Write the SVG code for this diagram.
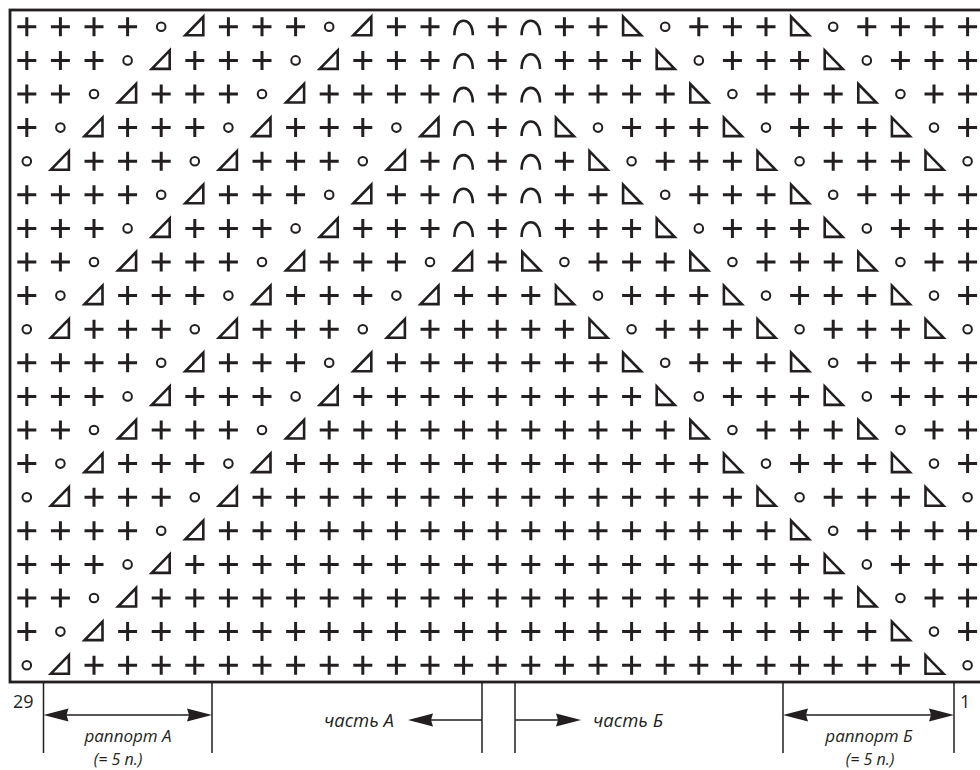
<svg xmlns="http://www.w3.org/2000/svg" width="980" height="770" viewBox="0 0 980 770">
<style>
.k{fill:none;stroke:#231f20}
.t{font-family:"Open Sans","DejaVu Sans",sans-serif;font-style:italic;font-size:18.5px;fill:#231f20}
.s{font-size:17px}
.q{font-size:16px}
.n{font-family:"Open Sans","DejaVu Sans",sans-serif;font-size:18px;fill:#231f20}
.ln{stroke:#231f20;stroke-width:1.5;fill:none}
</style>
<defs>
<path id="p" class="k" stroke-width="3" d="M-9.5,0H9.5M0,-9.5V9.5"/>
<circle id="o" class="k" stroke-width="2" r="4.3"/>
<path id="l" class="k" stroke-width="2.6" d="M-9.5,8.5H8.5V-10Z"/>
<path id="r" class="k" stroke-width="2.6" d="M-8.5,-10V8.5H9.5Z"/>
<path id="a" class="k" stroke-width="2.6" d="M-9.2,8.5C-9.2,-11 9.2,-11 9.2,8.5"/>
<path id="ah" fill="#231f20" d="M0,0L25,-6.5L23,0L25,6.5Z"/>
</defs>
<rect x="10" y="10" width="974" height="672" fill="#fff" stroke="#231f20" stroke-width="2.8"/>
<g id="chart">
<g transform="translate(0,26.8)"><use href="#p" x="26.8"/><use href="#p" x="60.4"/><use href="#p" x="94"/><use href="#p" x="127.6"/><use href="#o" x="161.2"/><use href="#l" x="194.8"/><use href="#p" x="228.4"/><use href="#p" x="262"/><use href="#p" x="295.6"/><use href="#o" x="329.2"/><use href="#l" x="362.8"/><use href="#p" x="396.4"/><use href="#p" x="430"/><use href="#a" x="463.6"/><use href="#p" x="497.2"/><use href="#a" x="530.8"/><use href="#p" x="564.4"/><use href="#p" x="598"/><use href="#r" x="631.6"/><use href="#o" x="665.2"/><use href="#p" x="698.8"/><use href="#p" x="732.4"/><use href="#p" x="766"/><use href="#r" x="799.6"/><use href="#o" x="833.2"/><use href="#p" x="866.8"/><use href="#p" x="900.4"/><use href="#p" x="934"/><use href="#p" x="967.6"/></g>
<g transform="translate(0,60.4)"><use href="#p" x="26.8"/><use href="#p" x="60.4"/><use href="#p" x="94"/><use href="#o" x="127.6"/><use href="#l" x="161.2"/><use href="#p" x="194.8"/><use href="#p" x="228.4"/><use href="#p" x="262"/><use href="#o" x="295.6"/><use href="#l" x="329.2"/><use href="#p" x="362.8"/><use href="#p" x="396.4"/><use href="#p" x="430"/><use href="#a" x="463.6"/><use href="#p" x="497.2"/><use href="#a" x="530.8"/><use href="#p" x="564.4"/><use href="#p" x="598"/><use href="#p" x="631.6"/><use href="#r" x="665.2"/><use href="#o" x="698.8"/><use href="#p" x="732.4"/><use href="#p" x="766"/><use href="#p" x="799.6"/><use href="#r" x="833.2"/><use href="#o" x="866.8"/><use href="#p" x="900.4"/><use href="#p" x="934"/><use href="#p" x="967.6"/></g>
<g transform="translate(0,94)"><use href="#p" x="26.8"/><use href="#p" x="60.4"/><use href="#o" x="94"/><use href="#l" x="127.6"/><use href="#p" x="161.2"/><use href="#p" x="194.8"/><use href="#p" x="228.4"/><use href="#o" x="262"/><use href="#l" x="295.6"/><use href="#p" x="329.2"/><use href="#p" x="362.8"/><use href="#p" x="396.4"/><use href="#p" x="430"/><use href="#a" x="463.6"/><use href="#p" x="497.2"/><use href="#a" x="530.8"/><use href="#p" x="564.4"/><use href="#p" x="598"/><use href="#p" x="631.6"/><use href="#p" x="665.2"/><use href="#r" x="698.8"/><use href="#o" x="732.4"/><use href="#p" x="766"/><use href="#p" x="799.6"/><use href="#p" x="833.2"/><use href="#r" x="866.8"/><use href="#o" x="900.4"/><use href="#p" x="934"/><use href="#p" x="967.6"/></g>
<g transform="translate(0,127.6)"><use href="#p" x="26.8"/><use href="#o" x="60.4"/><use href="#l" x="94"/><use href="#p" x="127.6"/><use href="#p" x="161.2"/><use href="#p" x="194.8"/><use href="#o" x="228.4"/><use href="#l" x="262"/><use href="#p" x="295.6"/><use href="#p" x="329.2"/><use href="#p" x="362.8"/><use href="#o" x="396.4"/><use href="#l" x="430"/><use href="#a" x="463.6"/><use href="#p" x="497.2"/><use href="#a" x="530.8"/><use href="#r" x="564.4"/><use href="#o" x="598"/><use href="#p" x="631.6"/><use href="#p" x="665.2"/><use href="#p" x="698.8"/><use href="#r" x="732.4"/><use href="#o" x="766"/><use href="#p" x="799.6"/><use href="#p" x="833.2"/><use href="#p" x="866.8"/><use href="#r" x="900.4"/><use href="#o" x="934"/><use href="#p" x="967.6"/></g>
<g transform="translate(0,161.2)"><use href="#o" x="26.8"/><use href="#l" x="60.4"/><use href="#p" x="94"/><use href="#p" x="127.6"/><use href="#p" x="161.2"/><use href="#o" x="194.8"/><use href="#l" x="228.4"/><use href="#p" x="262"/><use href="#p" x="295.6"/><use href="#p" x="329.2"/><use href="#o" x="362.8"/><use href="#l" x="396.4"/><use href="#p" x="430"/><use href="#a" x="463.6"/><use href="#p" x="497.2"/><use href="#a" x="530.8"/><use href="#p" x="564.4"/><use href="#r" x="598"/><use href="#o" x="631.6"/><use href="#p" x="665.2"/><use href="#p" x="698.8"/><use href="#p" x="732.4"/><use href="#r" x="766"/><use href="#o" x="799.6"/><use href="#p" x="833.2"/><use href="#p" x="866.8"/><use href="#p" x="900.4"/><use href="#r" x="934"/><use href="#o" x="967.6"/></g>
<g transform="translate(0,194.8)"><use href="#p" x="26.8"/><use href="#p" x="60.4"/><use href="#p" x="94"/><use href="#p" x="127.6"/><use href="#o" x="161.2"/><use href="#l" x="194.8"/><use href="#p" x="228.4"/><use href="#p" x="262"/><use href="#p" x="295.6"/><use href="#o" x="329.2"/><use href="#l" x="362.8"/><use href="#p" x="396.4"/><use href="#p" x="430"/><use href="#a" x="463.6"/><use href="#p" x="497.2"/><use href="#a" x="530.8"/><use href="#p" x="564.4"/><use href="#p" x="598"/><use href="#r" x="631.6"/><use href="#o" x="665.2"/><use href="#p" x="698.8"/><use href="#p" x="732.4"/><use href="#p" x="766"/><use href="#r" x="799.6"/><use href="#o" x="833.2"/><use href="#p" x="866.8"/><use href="#p" x="900.4"/><use href="#p" x="934"/><use href="#p" x="967.6"/></g>
<g transform="translate(0,228.4)"><use href="#p" x="26.8"/><use href="#p" x="60.4"/><use href="#p" x="94"/><use href="#o" x="127.6"/><use href="#l" x="161.2"/><use href="#p" x="194.8"/><use href="#p" x="228.4"/><use href="#p" x="262"/><use href="#o" x="295.6"/><use href="#l" x="329.2"/><use href="#p" x="362.8"/><use href="#p" x="396.4"/><use href="#p" x="430"/><use href="#a" x="463.6"/><use href="#p" x="497.2"/><use href="#a" x="530.8"/><use href="#p" x="564.4"/><use href="#p" x="598"/><use href="#p" x="631.6"/><use href="#r" x="665.2"/><use href="#o" x="698.8"/><use href="#p" x="732.4"/><use href="#p" x="766"/><use href="#p" x="799.6"/><use href="#r" x="833.2"/><use href="#o" x="866.8"/><use href="#p" x="900.4"/><use href="#p" x="934"/><use href="#p" x="967.6"/></g>
<g transform="translate(0,262)"><use href="#p" x="26.8"/><use href="#p" x="60.4"/><use href="#o" x="94"/><use href="#l" x="127.6"/><use href="#p" x="161.2"/><use href="#p" x="194.8"/><use href="#p" x="228.4"/><use href="#o" x="262"/><use href="#l" x="295.6"/><use href="#p" x="329.2"/><use href="#p" x="362.8"/><use href="#p" x="396.4"/><use href="#o" x="430"/><use href="#l" x="463.6"/><use href="#p" x="497.2"/><use href="#r" x="530.8"/><use href="#o" x="564.4"/><use href="#p" x="598"/><use href="#p" x="631.6"/><use href="#p" x="665.2"/><use href="#r" x="698.8"/><use href="#o" x="732.4"/><use href="#p" x="766"/><use href="#p" x="799.6"/><use href="#p" x="833.2"/><use href="#r" x="866.8"/><use href="#o" x="900.4"/><use href="#p" x="934"/><use href="#p" x="967.6"/></g>
<g transform="translate(0,295.6)"><use href="#p" x="26.8"/><use href="#o" x="60.4"/><use href="#l" x="94"/><use href="#p" x="127.6"/><use href="#p" x="161.2"/><use href="#p" x="194.8"/><use href="#o" x="228.4"/><use href="#l" x="262"/><use href="#p" x="295.6"/><use href="#p" x="329.2"/><use href="#p" x="362.8"/><use href="#o" x="396.4"/><use href="#l" x="430"/><use href="#p" x="463.6"/><use href="#p" x="497.2"/><use href="#p" x="530.8"/><use href="#r" x="564.4"/><use href="#o" x="598"/><use href="#p" x="631.6"/><use href="#p" x="665.2"/><use href="#p" x="698.8"/><use href="#r" x="732.4"/><use href="#o" x="766"/><use href="#p" x="799.6"/><use href="#p" x="833.2"/><use href="#p" x="866.8"/><use href="#r" x="900.4"/><use href="#o" x="934"/><use href="#p" x="967.6"/></g>
<g transform="translate(0,329.2)"><use href="#o" x="26.8"/><use href="#l" x="60.4"/><use href="#p" x="94"/><use href="#p" x="127.6"/><use href="#p" x="161.2"/><use href="#o" x="194.8"/><use href="#l" x="228.4"/><use href="#p" x="262"/><use href="#p" x="295.6"/><use href="#p" x="329.2"/><use href="#o" x="362.8"/><use href="#l" x="396.4"/><use href="#p" x="430"/><use href="#p" x="463.6"/><use href="#p" x="497.2"/><use href="#p" x="530.8"/><use href="#p" x="564.4"/><use href="#r" x="598"/><use href="#o" x="631.6"/><use href="#p" x="665.2"/><use href="#p" x="698.8"/><use href="#p" x="732.4"/><use href="#r" x="766"/><use href="#o" x="799.6"/><use href="#p" x="833.2"/><use href="#p" x="866.8"/><use href="#p" x="900.4"/><use href="#r" x="934"/><use href="#o" x="967.6"/></g>
<g transform="translate(0,362.8)"><use href="#p" x="26.8"/><use href="#p" x="60.4"/><use href="#p" x="94"/><use href="#p" x="127.6"/><use href="#o" x="161.2"/><use href="#l" x="194.8"/><use href="#p" x="228.4"/><use href="#p" x="262"/><use href="#p" x="295.6"/><use href="#o" x="329.2"/><use href="#l" x="362.8"/><use href="#p" x="396.4"/><use href="#p" x="430"/><use href="#p" x="463.6"/><use href="#p" x="497.2"/><use href="#p" x="530.8"/><use href="#p" x="564.4"/><use href="#p" x="598"/><use href="#r" x="631.6"/><use href="#o" x="665.2"/><use href="#p" x="698.8"/><use href="#p" x="732.4"/><use href="#p" x="766"/><use href="#r" x="799.6"/><use href="#o" x="833.2"/><use href="#p" x="866.8"/><use href="#p" x="900.4"/><use href="#p" x="934"/><use href="#p" x="967.6"/></g>
<g transform="translate(0,396.4)"><use href="#p" x="26.8"/><use href="#p" x="60.4"/><use href="#p" x="94"/><use href="#o" x="127.6"/><use href="#l" x="161.2"/><use href="#p" x="194.8"/><use href="#p" x="228.4"/><use href="#p" x="262"/><use href="#o" x="295.6"/><use href="#l" x="329.2"/><use href="#p" x="362.8"/><use href="#p" x="396.4"/><use href="#p" x="430"/><use href="#p" x="463.6"/><use href="#p" x="497.2"/><use href="#p" x="530.8"/><use href="#p" x="564.4"/><use href="#p" x="598"/><use href="#p" x="631.6"/><use href="#r" x="665.2"/><use href="#o" x="698.8"/><use href="#p" x="732.4"/><use href="#p" x="766"/><use href="#p" x="799.6"/><use href="#r" x="833.2"/><use href="#o" x="866.8"/><use href="#p" x="900.4"/><use href="#p" x="934"/><use href="#p" x="967.6"/></g>
<g transform="translate(0,430)"><use href="#p" x="26.8"/><use href="#p" x="60.4"/><use href="#o" x="94"/><use href="#l" x="127.6"/><use href="#p" x="161.2"/><use href="#p" x="194.8"/><use href="#p" x="228.4"/><use href="#o" x="262"/><use href="#l" x="295.6"/><use href="#p" x="329.2"/><use href="#p" x="362.8"/><use href="#p" x="396.4"/><use href="#p" x="430"/><use href="#p" x="463.6"/><use href="#p" x="497.2"/><use href="#p" x="530.8"/><use href="#p" x="564.4"/><use href="#p" x="598"/><use href="#p" x="631.6"/><use href="#p" x="665.2"/><use href="#r" x="698.8"/><use href="#o" x="732.4"/><use href="#p" x="766"/><use href="#p" x="799.6"/><use href="#p" x="833.2"/><use href="#r" x="866.8"/><use href="#o" x="900.4"/><use href="#p" x="934"/><use href="#p" x="967.6"/></g>
<g transform="translate(0,463.6)"><use href="#p" x="26.8"/><use href="#o" x="60.4"/><use href="#l" x="94"/><use href="#p" x="127.6"/><use href="#p" x="161.2"/><use href="#p" x="194.8"/><use href="#o" x="228.4"/><use href="#l" x="262"/><use href="#p" x="295.6"/><use href="#p" x="329.2"/><use href="#p" x="362.8"/><use href="#p" x="396.4"/><use href="#p" x="430"/><use href="#p" x="463.6"/><use href="#p" x="497.2"/><use href="#p" x="530.8"/><use href="#p" x="564.4"/><use href="#p" x="598"/><use href="#p" x="631.6"/><use href="#p" x="665.2"/><use href="#p" x="698.8"/><use href="#r" x="732.4"/><use href="#o" x="766"/><use href="#p" x="799.6"/><use href="#p" x="833.2"/><use href="#p" x="866.8"/><use href="#r" x="900.4"/><use href="#o" x="934"/><use href="#p" x="967.6"/></g>
<g transform="translate(0,497.2)"><use href="#o" x="26.8"/><use href="#l" x="60.4"/><use href="#p" x="94"/><use href="#p" x="127.6"/><use href="#p" x="161.2"/><use href="#o" x="194.8"/><use href="#l" x="228.4"/><use href="#p" x="262"/><use href="#p" x="295.6"/><use href="#p" x="329.2"/><use href="#p" x="362.8"/><use href="#p" x="396.4"/><use href="#p" x="430"/><use href="#p" x="463.6"/><use href="#p" x="497.2"/><use href="#p" x="530.8"/><use href="#p" x="564.4"/><use href="#p" x="598"/><use href="#p" x="631.6"/><use href="#p" x="665.2"/><use href="#p" x="698.8"/><use href="#p" x="732.4"/><use href="#r" x="766"/><use href="#o" x="799.6"/><use href="#p" x="833.2"/><use href="#p" x="866.8"/><use href="#p" x="900.4"/><use href="#r" x="934"/><use href="#o" x="967.6"/></g>
<g transform="translate(0,530.8)"><use href="#p" x="26.8"/><use href="#p" x="60.4"/><use href="#p" x="94"/><use href="#p" x="127.6"/><use href="#o" x="161.2"/><use href="#l" x="194.8"/><use href="#p" x="228.4"/><use href="#p" x="262"/><use href="#p" x="295.6"/><use href="#p" x="329.2"/><use href="#p" x="362.8"/><use href="#p" x="396.4"/><use href="#p" x="430"/><use href="#p" x="463.6"/><use href="#p" x="497.2"/><use href="#p" x="530.8"/><use href="#p" x="564.4"/><use href="#p" x="598"/><use href="#p" x="631.6"/><use href="#p" x="665.2"/><use href="#p" x="698.8"/><use href="#p" x="732.4"/><use href="#p" x="766"/><use href="#r" x="799.6"/><use href="#o" x="833.2"/><use href="#p" x="866.8"/><use href="#p" x="900.4"/><use href="#p" x="934"/><use href="#p" x="967.6"/></g>
<g transform="translate(0,564.4)"><use href="#p" x="26.8"/><use href="#p" x="60.4"/><use href="#p" x="94"/><use href="#o" x="127.6"/><use href="#l" x="161.2"/><use href="#p" x="194.8"/><use href="#p" x="228.4"/><use href="#p" x="262"/><use href="#p" x="295.6"/><use href="#p" x="329.2"/><use href="#p" x="362.8"/><use href="#p" x="396.4"/><use href="#p" x="430"/><use href="#p" x="463.6"/><use href="#p" x="497.2"/><use href="#p" x="530.8"/><use href="#p" x="564.4"/><use href="#p" x="598"/><use href="#p" x="631.6"/><use href="#p" x="665.2"/><use href="#p" x="698.8"/><use href="#p" x="732.4"/><use href="#p" x="766"/><use href="#p" x="799.6"/><use href="#r" x="833.2"/><use href="#o" x="866.8"/><use href="#p" x="900.4"/><use href="#p" x="934"/><use href="#p" x="967.6"/></g>
<g transform="translate(0,598)"><use href="#p" x="26.8"/><use href="#p" x="60.4"/><use href="#o" x="94"/><use href="#l" x="127.6"/><use href="#p" x="161.2"/><use href="#p" x="194.8"/><use href="#p" x="228.4"/><use href="#p" x="262"/><use href="#p" x="295.6"/><use href="#p" x="329.2"/><use href="#p" x="362.8"/><use href="#p" x="396.4"/><use href="#p" x="430"/><use href="#p" x="463.6"/><use href="#p" x="497.2"/><use href="#p" x="530.8"/><use href="#p" x="564.4"/><use href="#p" x="598"/><use href="#p" x="631.6"/><use href="#p" x="665.2"/><use href="#p" x="698.8"/><use href="#p" x="732.4"/><use href="#p" x="766"/><use href="#p" x="799.6"/><use href="#p" x="833.2"/><use href="#r" x="866.8"/><use href="#o" x="900.4"/><use href="#p" x="934"/><use href="#p" x="967.6"/></g>
<g transform="translate(0,631.6)"><use href="#p" x="26.8"/><use href="#o" x="60.4"/><use href="#l" x="94"/><use href="#p" x="127.6"/><use href="#p" x="161.2"/><use href="#p" x="194.8"/><use href="#p" x="228.4"/><use href="#p" x="262"/><use href="#p" x="295.6"/><use href="#p" x="329.2"/><use href="#p" x="362.8"/><use href="#p" x="396.4"/><use href="#p" x="430"/><use href="#p" x="463.6"/><use href="#p" x="497.2"/><use href="#p" x="530.8"/><use href="#p" x="564.4"/><use href="#p" x="598"/><use href="#p" x="631.6"/><use href="#p" x="665.2"/><use href="#p" x="698.8"/><use href="#p" x="732.4"/><use href="#p" x="766"/><use href="#p" x="799.6"/><use href="#p" x="833.2"/><use href="#p" x="866.8"/><use href="#r" x="900.4"/><use href="#o" x="934"/><use href="#p" x="967.6"/></g>
<g transform="translate(0,665.2)"><use href="#o" x="26.8"/><use href="#l" x="60.4"/><use href="#p" x="94"/><use href="#p" x="127.6"/><use href="#p" x="161.2"/><use href="#p" x="194.8"/><use href="#p" x="228.4"/><use href="#p" x="262"/><use href="#p" x="295.6"/><use href="#p" x="329.2"/><use href="#p" x="362.8"/><use href="#p" x="396.4"/><use href="#p" x="430"/><use href="#p" x="463.6"/><use href="#p" x="497.2"/><use href="#p" x="530.8"/><use href="#p" x="564.4"/><use href="#p" x="598"/><use href="#p" x="631.6"/><use href="#p" x="665.2"/><use href="#p" x="698.8"/><use href="#p" x="732.4"/><use href="#p" x="766"/><use href="#p" x="799.6"/><use href="#p" x="833.2"/><use href="#p" x="866.8"/><use href="#p" x="900.4"/><use href="#r" x="934"/><use href="#o" x="967.6"/></g>
</g>
<g id="annotations">
<path class="ln" d="M43.5,682V753M212,682V753M482,682V753M515,682V753M783,682V753M954,682V753"/>
<path class="ln" d="M62,715H194M802,715H936M482,720H430M515,720H560"/>
<use href="#ah" x="43.5" y="715"/>
<use href="#ah" transform="translate(212,715) scale(-1,1)"/>
<use href="#ah" x="783" y="715"/>
<use href="#ah" transform="translate(954,715) scale(-1,1)"/>
<use href="#ah" x="408" y="720"/>
<use href="#ah" transform="translate(581,720) scale(-1,1)"/>
<text class="n" x="13" y="708">29</text>
<text class="n" x="960" y="708">1</text>
<text class="t s" x="128" y="742" text-anchor="middle">раппорт А</text>
<text class="t q" x="118" y="765" text-anchor="middle">(= 5 п.)</text>
<text class="t" x="394" y="727" text-anchor="end">часть А</text>
<text class="t" x="593" y="727">часть Б</text>
<text class="t s" x="869" y="742" text-anchor="middle">раппорт Б</text>
<text class="t q" x="870" y="765" text-anchor="middle">(= 5 п.)</text>
</g>
</svg>
